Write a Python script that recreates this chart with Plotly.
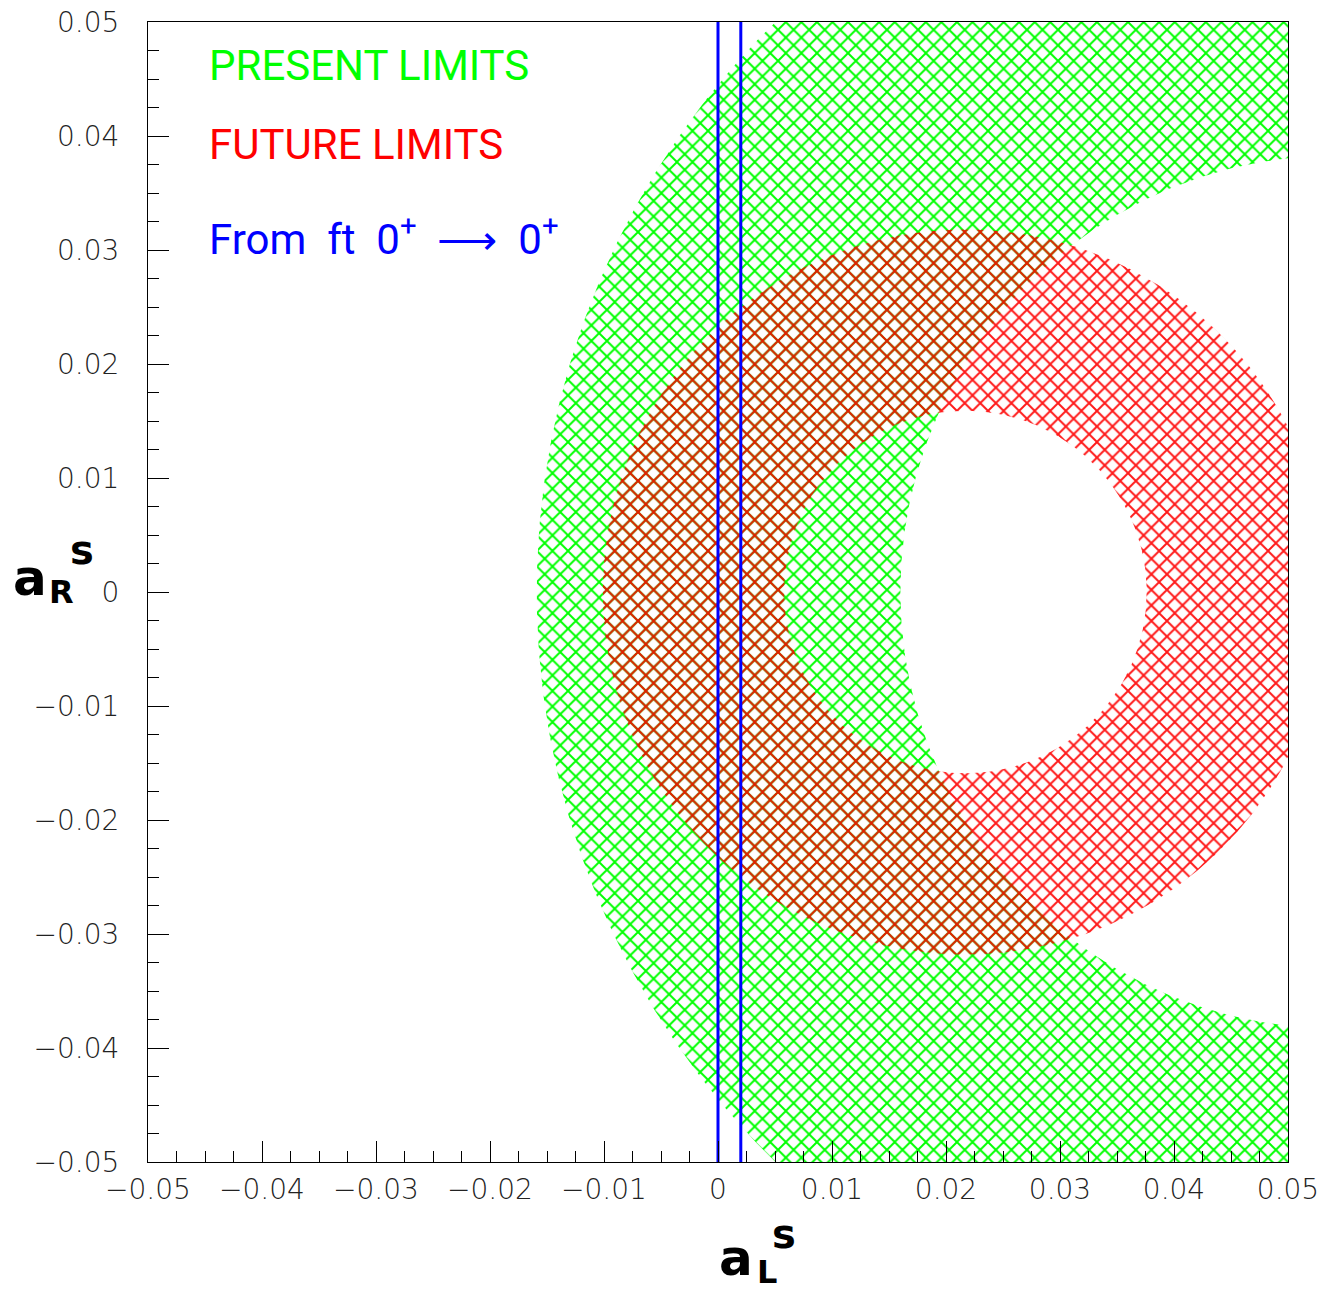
import numpy as np
import plotly.graph_objects as go

# ---- values (data units) ----
green_center = [0.0543, 0.0]          # present limits annulus centre
green_radii = [0.0702, 0.0383]        # outer, inner radius
red_center = [0.0217, 0.0]            # future limits annulus centre
red_radii = [0.0318, 0.0159]          # outer, inner radius
blue_x = [0.0, 0.002]                 # ft 0+ -> 0+ limits
blue_y = [-0.05, 0.05]

tick_vals = [-0.05, -0.04, -0.03, -0.02, -0.01, 0.0, 0.01, 0.02, 0.03, 0.04, 0.05]
tick_text = ["\u22120.05", "\u22120.04", "\u22120.03", "\u22120.02", "\u22120.01", "0",
             "0.01", "0.02", "0.03", "0.04", "0.05"]
legend_texts = ["PRESENT LIMITS", "FUTURE LIMITS",
                "From  ft  0<sup>+</sup>  \u27f6  0<sup>+</sup>"]
legend_colors = ["#00ff00", "#ff0000", "#0000ff"]

# ---- layout geometry (pixels) ----
W, H = 1326, 1291
L, R, T, B = 148, 1288, 22, 1162


def px(x):
    return (x - L) / (R - L)


def py(y):
    return (B - y) / (B - T)


def ring(center, radii, n=721):
    t = np.linspace(0, 2 * np.pi, n)
    ox = center[0] + radii[0] * np.cos(t)
    oy = center[1] + radii[0] * np.sin(t)
    tr = t[::-1]
    ix = center[0] + radii[1] * np.cos(tr)
    iy = center[1] + radii[1] * np.sin(tr)
    return np.concatenate([ox, ix]), np.concatenate([oy, iy])


fig = go.Figure()

gx, gy = ring(green_center, green_radii)
fig.add_trace(go.Scatter(
    x=gx, y=gy, mode="lines", fill="toself", line=dict(width=0, color="#00ff00"),
    fillcolor="rgba(255,255,255,0)",
    fillpattern=dict(shape="x", size=11, solidity=0.32, fgcolor="#00ff00",
                     fgopacity=1, bgcolor="rgba(255,255,255,0)"),
    hoverinfo="skip", showlegend=False))

rx, ry = ring(red_center, red_radii)
fig.add_trace(go.Scatter(
    x=rx, y=ry, mode="lines", fill="toself", line=dict(width=0, color="#ff0000"),
    fillcolor="rgba(255,255,255,0)",
    fillpattern=dict(shape="x", size=11, solidity=0.32, fgcolor="#ff0000",
                     fgopacity=0.9, bgcolor="rgba(255,255,255,0)"),
    hoverinfo="skip", showlegend=False))

for bx in blue_x:
    fig.add_trace(go.Scatter(x=[bx, bx], y=blue_y, mode="lines",
                             line=dict(color="#0000ff", width=3),
                             hoverinfo="skip", showlegend=False))

axis_common = dict(
    range=[-0.05, 0.05], tickmode="array", tickvals=tick_vals, ticktext=tick_text,
    ticks="inside", ticklen=21, tickwidth=1, tickcolor="black",
    minor=dict(tickmode="linear", tick0=0, dtick=0.0025, ticks="inside",
               ticklen=11, tickwidth=1, tickcolor="black"),
    showline=True, linecolor="black", linewidth=1, mirror=True,
    showgrid=False, zeroline=False, automargin=False,
    tickfont=dict(family="DejaVu Sans", size=28, color="#222222", weight=300),
)

fig.update_layout(
    width=W, height=H,
    margin=dict(l=L, r=W - R, t=T, b=H - B, pad=0, autoexpand=False),
    plot_bgcolor="white", paper_bgcolor="white",
    xaxis=dict(**axis_common, ticklabelstandoff=2),
    yaxis=dict(**axis_common, ticklabelstandoff=22),
    showlegend=False,
)

# legend-like texts
ys = [65, 144, 236]
for txt, col, yy in zip(legend_texts, legend_colors, ys):
    fig.add_annotation(x=px(207), y=py(yy), xref="paper", yref="paper",
                       xanchor="left", yanchor="middle", showarrow=False,
                       text=txt, font=dict(family="Roboto", size=42, color=col))

# axis titles built from pieces
title_font = "DejaVu Sans"
pieces = [
    ("a", 736, 1258, 50), ("L", 767, 1272, 32), ("s", 784, 1234, 40),
    ("a", 30, 578, 50), ("R", 61, 592, 32), ("s", 82, 550, 40),
]
for t, xx, yy, sz in pieces:
    fig.add_annotation(x=px(xx), y=py(yy), xref="paper", yref="paper",
                       xanchor="center", yanchor="middle", showarrow=False,
                       text="<b>%s</b>" % t,
                       font=dict(family=title_font, size=sz, color="black"))

fig.write_html("out.html")
